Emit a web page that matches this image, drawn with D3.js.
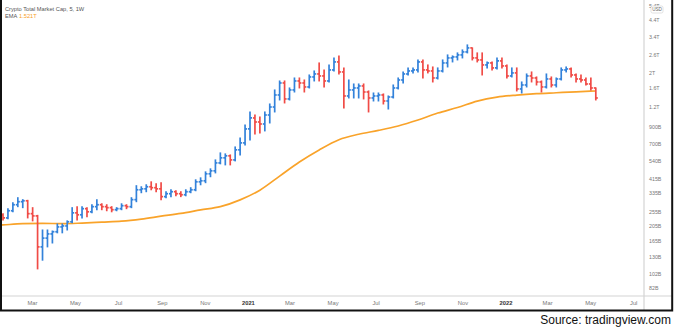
<!DOCTYPE html>
<html><head><meta charset="utf-8">
<script src="https://cdn.jsdelivr.net/npm/d3@7"></script>
<style>html,body{margin:0;padding:0;background:#fff;overflow:hidden}svg{display:block;font-family:"Liberation Sans",Arial,sans-serif}</style>
</head><body><svg id="c" width="675" height="332"></svg>
<script>
const weeks = ["2020-01-20","2020-01-27","2020-02-03","2020-02-10","2020-02-17","2020-02-24","2020-03-02","2020-03-09","2020-03-16","2020-03-23","2020-03-30","2020-04-06","2020-04-13","2020-04-20","2020-04-27","2020-05-04","2020-05-11","2020-05-18","2020-05-25","2020-06-01","2020-06-08","2020-06-15","2020-06-22","2020-06-29","2020-07-06","2020-07-13","2020-07-20","2020-07-27","2020-08-03","2020-08-10","2020-08-17","2020-08-24","2020-08-31","2020-09-07","2020-09-14","2020-09-21","2020-09-28","2020-10-05","2020-10-12","2020-10-19","2020-10-26","2020-11-02","2020-11-09","2020-11-16","2020-11-23","2020-11-30","2020-12-07","2020-12-14","2020-12-21","2020-12-28","2021-01-04","2021-01-11","2021-01-18","2021-01-25","2021-02-01","2021-02-08","2021-02-15","2021-02-22","2021-03-01","2021-03-08","2021-03-15","2021-03-22","2021-03-29","2021-04-05","2021-04-12","2021-04-19","2021-04-26","2021-05-03","2021-05-10","2021-05-17","2021-05-24","2021-05-31","2021-06-07","2021-06-14","2021-06-21","2021-06-28","2021-07-05","2021-07-12","2021-07-19","2021-07-26","2021-08-02","2021-08-09","2021-08-16","2021-08-23","2021-08-30","2021-09-06","2021-09-13","2021-09-20","2021-09-27","2021-10-04","2021-10-11","2021-10-18","2021-10-25","2021-11-01","2021-11-08","2021-11-15","2021-11-22","2021-11-29","2021-12-06","2021-12-13","2021-12-20","2021-12-27","2022-01-03","2022-01-10","2022-01-17","2022-01-24","2022-01-31","2022-02-07","2022-02-14","2022-02-21","2022-02-28","2022-03-07","2022-03-14","2022-03-21","2022-03-28","2022-04-04","2022-04-11","2022-04-18","2022-04-25","2022-05-02","2022-05-09"];
// values in billions USD
const open = [243,232,258,282,295,299,247,239,151,172,183,189,203,206,219,250,243,266,254,274,282,274,270,262,266,278,274,304,352,357,368,363,357,318,332,342,332,327,342,352,396,402,446,466,524,565,582,548,636,705,867,1020,961,933,1066,1200,1434,1713,1352,1545,1765,1713,1615,1873,1958,1901,1765,2078,2340,2017,1413,1545,1591,1639,1499,1372,1413,1434,1312,1392,1591,1791,1958,2047,2078,2340,2078,2047,1845,2047,2305,2483,2520,2596,2714,2880,2483,2410,2238,2305,2141,2375,2205,1901,1988,1568,1663,1901,1845,1739,1615,1818,1663,1818,2078,2109,1929,1818,1791,1688,1591];
const high = [247,266,290,313,304,301,270,241,194,194,191,212,212,222,270,274,274,270,282,304,286,282,274,270,286,282,313,374,368,379,396,385,391,342,352,347,342,352,363,408,420,459,480,548,608,599,590,664,759,920,1115,1066,1035,1115,1255,1545,1765,1765,1591,1845,1845,1791,1929,2047,2305,2078,2238,2483,2558,2141,1791,1688,1688,1688,1522,1477,1477,1456,1413,1663,1845,2017,2141,2141,2410,2410,2238,2172,2141,2410,2596,2558,2675,2796,3011,2880,2675,2675,2340,2340,2483,2483,2238,2141,2141,1739,1958,2017,1873,1765,1958,1873,1845,2141,2172,2141,1958,1929,1845,1845,1591];
const low = [225,229,254,274,270,232,222,109,124,151,160,186,186,194,216,225,232,236,250,262,262,258,254,258,262,266,270,295,337,342,352,342,304,313,318,322,318,322,337,347,379,391,427,452,517,509,509,540,590,684,737,805,817,842,947,1115,1332,1274,1332,1499,1591,1499,1591,1765,1765,1615,1739,2047,1958,1182,1372,1372,1372,1352,1115,1312,1312,1255,1165,1372,1568,1713,1929,1988,2017,1845,1988,1739,1818,2017,2172,2340,2410,2483,2675,2410,2340,1929,2141,2078,2109,2141,1845,1873,1522,1477,1615,1739,1663,1499,1591,1615,1615,1791,2017,1873,1739,1739,1663,1545,1332];
const close = [232,258,282,295,299,247,239,151,172,183,189,203,206,219,250,243,266,254,274,282,274,270,262,266,278,274,304,352,357,368,363,357,318,332,342,332,327,342,352,396,402,446,466,524,565,582,548,636,705,867,1020,961,933,1066,1200,1434,1713,1352,1545,1765,1713,1615,1873,1958,1901,1765,2078,2340,2017,1413,1545,1591,1639,1499,1372,1413,1434,1312,1392,1591,1791,1958,2047,2078,2340,2078,2047,1845,2047,2305,2483,2520,2596,2714,2880,2483,2410,2238,2305,2141,2375,2205,1901,1988,1568,1663,1901,1845,1739,1615,1818,1663,1818,2078,2109,1929,1818,1791,1688,1591,1372];
const emaDates = ["2020-01-13","2020-01-20","2020-02-17","2020-03-16","2020-04-13","2020-05-11","2020-06-08","2020-07-06","2020-08-03","2020-08-31","2020-09-28","2020-10-26","2020-11-23","2020-12-21","2021-01-18","2021-02-15","2021-03-15","2021-04-12","2021-05-10","2021-06-07","2021-07-05","2021-08-02","2021-08-30","2021-09-27","2021-10-25","2021-11-22","2021-12-20","2022-01-17","2022-02-14","2022-03-14","2022-04-11","2022-05-09"];
const emaValues = [208,209,213,214,213,215,218,221,228,238,248,261,274,303,350,431,531,635,739,801,848,906,990,1097,1191,1310,1390,1432,1462,1482,1503,1521];
const yTicks = [82,102,130,165,205,255,335,415,540,700,900,1200,1600,2000,2600,3400,4400,5400];
const yTickLabels = ["82B","102B","130B","165B","205B","255B","335B","415B","540B","700B","900B","1.2T","1.6T","2T","2.6T","3.4T","4.4T","5.4T"];
const title = "Crypto Total Market Cap, 5, 1W";
const emaLabel = "EMA";
const emaLast = "1.521T";
const source = "Source: tradingview.com";

const parse = d3.utcParse("%Y-%m-%d");
const bars = weeks.map((w,i)=>({d:parse(w),o:open[i],h:high[i],l:low[i],c:close[i]}));
const ema = emaDates.map((w,i)=>({d:parse(w),v:emaValues[i]}));

const svg = d3.select("#c");
const plotR = 644, axisY = 296;
const x = d3.scaleUtc().domain([parse(weeks[0]), parse(weeks[weeks.length-1])]).range([3, 595.8]);
const y = d3.scaleLog().domain([130,1200]).range([257,107]);

svg.append("rect").attr("width",675).attr("height",332).attr("fill","#fff");
const defs = svg.append("defs");
defs.append("clipPath").attr("id","clip").append("rect").attr("x",0).attr("y",0).attr("width",plotR).attr("height",axisY);

const plot = svg.append("g").attr("clip-path","url(#clip)");
const UP = "#3382da", DOWN = "#f04b46";

// EMA
plot.append("path").datum(ema)
  .attr("fill","none").attr("stroke","#f9a32a").attr("stroke-width",1.7)
  .attr("d", d3.line().x(d=>x(d.d)).y(d=>y(d.v)).curve(d3.curveMonotoneX));

// OHLC bars
const g = plot.selectAll("g.bar").data(bars).join("g").attr("class","bar")
  .attr("stroke", d=> d.c>=d.o ? UP : DOWN).attr("stroke-width",1.7);
g.append("line").attr("x1",d=>x(d.d)).attr("x2",d=>x(d.d)).attr("y1",d=>y(d.h)-0.5).attr("y2",d=>y(d.l)+0.5);
g.append("line").attr("x1",d=>x(d.d)-2).attr("x2",d=>x(d.d)).attr("y1",d=>y(d.o)).attr("y2",d=>y(d.o));
g.append("line").attr("x1",d=>x(d.d)).attr("x2",d=>x(d.d)+2).attr("y1",d=>y(d.c)).attr("y2",d=>y(d.c));

// axes lines
svg.append("line").attr("x1",0).attr("x2",673).attr("y1",axisY).attr("y2",axisY).attr("stroke","#d4d4d4").attr("stroke-width",1.2);
svg.append("line").attr("x1",plotR).attr("x2",plotR).attr("y1",0).attr("y2",310).attr("stroke","#d4d4d4").attr("stroke-width",1.2);

// x axis
const xTicks = d3.utcMonth.range(parse("2020-01-01"), parse("2022-08-01"), 2).filter(d=>x(d)>8 && x(d)<plotR-4);
const fmtM = d3.utcFormat("%b"), fmtY = d3.utcFormat("%Y");
const xa = svg.append("g").attr("transform",`translate(0,${axisY})`)
  .call(d3.axisBottom(x).tickValues(xTicks).tickSize(0).tickPadding(5).tickFormat(d=>d.getUTCMonth()===0?fmtY(d):fmtM(d)));
xa.select(".domain").remove();
xa.selectAll("text").attr("font-family","Liberation Sans, Arial, sans-serif").attr("font-size",5.8)
  .attr("fill",d=>d.getUTCMonth()===0?"#333":"#777").attr("font-weight",d=>d.getUTCMonth()===0?"bold":"normal");

// y axis
const ya = svg.append("g").attr("transform",`translate(${plotR},0)`)
  .call(d3.axisRight(y).tickValues(yTicks).tickSize(0).tickPadding(5).tickFormat((d,i)=>yTickLabels[i]));
ya.select(".domain").remove();
ya.selectAll("text").attr("font-family","Liberation Sans, Arial, sans-serif").attr("font-size",5.3).attr("fill","#777");

// USD box
svg.append("rect").attr("x",651).attr("y",6).attr("width",12).attr("height",7).attr("rx",1.5)
  .attr("fill","#fff").attr("stroke","#cfcfcf").attr("stroke-width",0.6);
svg.append("text").attr("x",657).attr("y",11.3).attr("text-anchor","middle").attr("font-size",4.6).attr("fill","#666").text("USD");

// legend
svg.append("text").attr("x",5).attr("y",10.8).attr("font-size",5.7).attr("fill","#555").text(title);
const lg = svg.append("text").attr("x",5).attr("y",17.5).attr("font-size",5.7).attr("fill","#555");
lg.append("tspan").text(emaLabel);
lg.append("tspan").attr("x",19).attr("fill","#f7a128").text(emaLast);

// frame
svg.append("path").attr("d","M1,-2 V310.5 H672.2 V-2").attr("fill","none").attr("stroke","#111").attr("stroke-width",2);

// source
svg.append("text").attr("x",671).attr("y",324).attr("text-anchor","end").attr("font-size",12).attr("fill","#111").text(source);
</script></body></html>
